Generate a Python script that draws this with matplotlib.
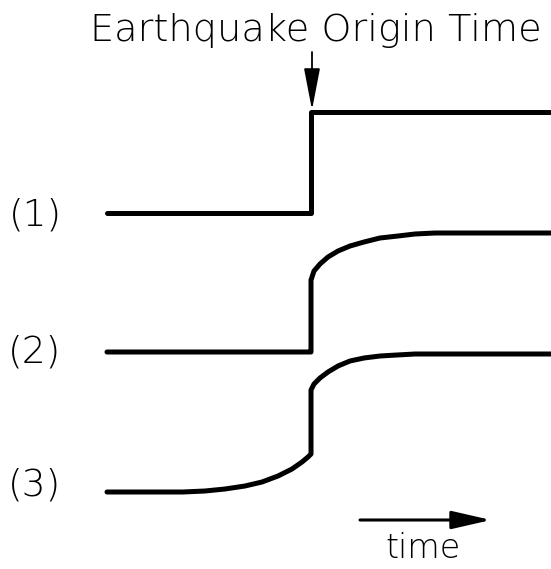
import numpy as np
import matplotlib.pyplot as plt

# Trace coordinates (pixel units, y downward)
x1 = [107, 311, 311, 551]
y1 = [213, 213, 112, 112]

x2 = [107, 311, 311, 311, 314, 320, 328, 338, 350, 364, 380, 398, 415, 435, 551]
y2 = [352, 352, 350, 280, 271, 264, 257, 251, 246, 242, 238, 236, 234, 233, 233]

x3 = [107, 183, 205, 225, 245, 262, 278, 292, 302, 308, 311, 311, 314, 320,
      328, 338, 350, 364, 380, 397, 415, 551]
y3 = [492, 492, 491, 489, 486, 482, 476, 469, 462, 457, 454, 390, 384, 378,
      372, 366, 361, 358, 356, 355, 354, 354]

labels = ['(1)', '(2)', '(3)']
label_y = [215, 352, 485]

fig = plt.figure(figsize=(5.51, 5.69), dpi=100)
ax = fig.add_axes([0, 0, 1, 1])
ax.set_xlim(0, 551)
ax.set_ylim(569, 0)
ax.axis('off')

for xs, ys in [(x1, y1), (x2, y2), (x3, y3)]:
    ax.plot(xs, ys, color='black', lw=3.6, solid_joinstyle='round',
            solid_capstyle='round')

font = dict(family='DejaVu Sans', fontweight='light', color='black')
for lab, yy in zip(labels, label_y):
    ax.text(35, yy, lab, fontsize=27, ha='center', va='center', **font)

ax.text(316, 30, 'Earthquake Origin Time', fontsize=27.5, ha='center',
        va='center', **font)

# origin time arrow
ax.annotate('', xy=(312, 110), xytext=(312, 52),
            arrowprops=dict(arrowstyle='-|>,head_length=2.6,head_width=0.5',
                            color='black', lw=1.3, shrinkA=0, shrinkB=0))

# time arrow
ax.annotate('', xy=(491, 520), xytext=(360, 520),
            arrowprops=dict(arrowstyle='-|>,head_length=2.4,head_width=0.55',
                            color='black', lw=2.2, shrinkA=0, shrinkB=0))
ax.text(423, 548, 'time', fontsize=24, ha='center', va='center', **font)

fig.savefig('out.png', dpi=100)
